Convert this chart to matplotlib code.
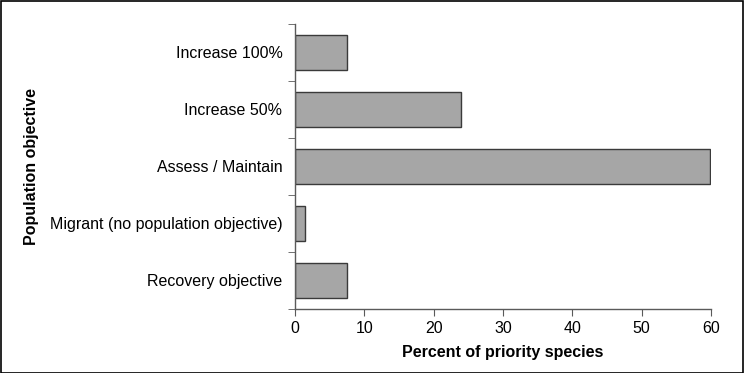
import matplotlib.pyplot as plt
import numpy as np

categories = ["Increase 100%", "Increase 50%", "Assess / Maintain",
              "Migrant (no population objective)", "Recovery objective"]
percent = [7.5, 24.0, 59.8, 1.5, 7.5]
xticks = [0, 10, 20, 30, 40, 50, 60]

plt.rcParams['font.family'] = ['Liberation Sans', 'DejaVu Sans']

fig = plt.figure(figsize=(7.44, 3.73), dpi=100)
ax = fig.add_axes([0.3965, 0.1716, 0.5591, 0.7641])

y = np.arange(len(categories))[::-1]
ax.barh(y, percent, height=0.63, color='#a6a6a6', edgecolor='#3a3a3a', linewidth=1)

ax.set_xlim(0, 60)
ax.set_ylim(-0.5, len(categories) - 0.5)
ax.set_xticks(xticks)
ax.set_xticklabels([str(t) for t in xticks], fontsize=11.5)
ax.set_yticks(y)
ax.set_yticklabels(categories, fontsize=11.5)
ax.tick_params(axis='y', which='major', length=0, pad=9)
ax.set_yticks(np.arange(-0.5, len(categories), 1.0), minor=True)
ax.tick_params(axis='y', which='minor', length=5, color='#5a5a5a', direction='out')
ax.tick_params(axis='x', length=5, color='#5a5a5a', direction='out', pad=4)

for s in ['top', 'right']:
    ax.spines[s].set_visible(False)
for s in ['left', 'bottom']:
    ax.spines[s].set_color('#5a5a5a')
    ax.spines[s].set_linewidth(1)

ax.set_xlabel("Percent of priority species", fontsize=11.5, fontweight='bold', labelpad=6)
ax.set_ylabel("Population objective", fontsize=11.5, fontweight='bold')
ax.yaxis.set_label_coords(-0.615, 0.5)

# border around the whole figure
fig.patches.append(plt.Rectangle((0.001, 0.001), 0.997, 0.996, transform=fig.transFigure,
                                 fill=False, edgecolor='black', linewidth=1.2))

fig.savefig("out.png", dpi=100)
